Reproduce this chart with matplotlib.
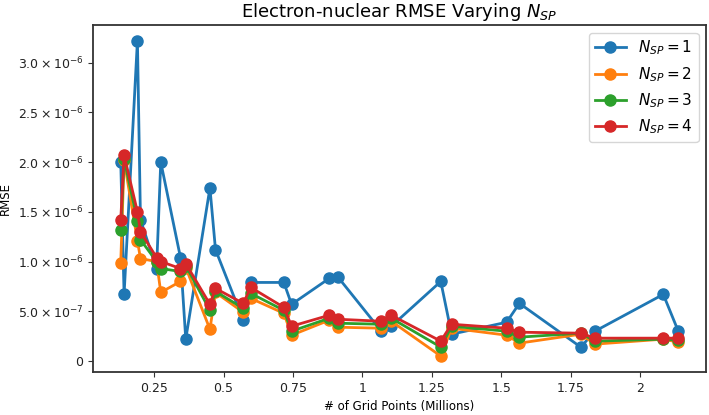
import matplotlib
matplotlib.use("Agg")
import matplotlib.pyplot as plt

grid_points = [0.130, 0.142, 0.190, 0.201, 0.259, 0.274, 0.345, 0.364, 0.451, 0.471,
               0.571, 0.598, 0.717, 0.745, 0.880, 0.913, 1.068, 1.104, 1.282, 1.321,
               1.519, 1.565, 1.786, 1.837, 2.083, 2.137]

rmse_nsp1 = [2.00, 0.67, 3.22, 1.42, 0.93, 2.00, 1.04, 0.22, 1.74, 1.12,
             0.41, 0.79, 0.79, 0.57, 0.83, 0.84, 0.30, 0.35, 0.80, 0.27,
             0.39, 0.58, 0.14, 0.30, 0.67, 0.30]
rmse_nsp2 = [0.99, 2.02, 1.21, 1.03, 1.00, 0.69, 0.80, 0.94, 0.32, 0.69,
             0.49, 0.63, 0.48, 0.26, 0.41, 0.34, 0.33, 0.40, 0.05, 0.33,
             0.26, 0.18, 0.27, 0.17, 0.22, 0.19]
rmse_nsp3 = [1.32, 2.03, 1.41, 1.22, 1.00, 0.93, 0.90, 0.96, 0.51, 0.70,
             0.53, 0.68, 0.51, 0.30, 0.43, 0.38, 0.37, 0.43, 0.14, 0.35,
             0.30, 0.24, 0.28, 0.20, 0.22, 0.21]
rmse_nsp4 = [1.42, 2.07, 1.50, 1.30, 1.04, 1.00, 0.93, 0.98, 0.57, 0.73,
             0.58, 0.74, 0.54, 0.35, 0.46, 0.42, 0.40, 0.46, 0.20, 0.37,
             0.33, 0.29, 0.28, 0.23, 0.23, 0.23]
scale = 1e-6

series = [rmse_nsp1, rmse_nsp2, rmse_nsp3, rmse_nsp4]
labels = [r"$N_{SP} = 1$", r"$N_{SP} = 2$", r"$N_{SP} = 3$", r"$N_{SP} = 4$"]
colors = ["#1f77b4", "#ff7f0e", "#2ca02c", "#d62728"]

x_ticks = [0.25, 0.5, 0.75, 1, 1.25, 1.5, 1.75, 2]
x_ticklabels = ["0.25", "0.5", "0.75", "1", "1.25", "1.5", "1.75", "2"]
y_ticks = [0, 5e-7, 1e-6, 1.5e-6, 2e-6, 2.5e-6, 3e-6]
y_ticklabels = ["0", r"$5.0\times10^{-7}$", r"$1.0\times10^{-6}$", r"$1.5\times10^{-6}$",
                r"$2.0\times10^{-6}$", r"$2.5\times10^{-6}$", r"$3.0\times10^{-6}$"]

fig = plt.figure(figsize=(7.09, 4.15), dpi=100)
ax = fig.add_axes([0.131, 0.104, 0.865, 0.836])

for vals, lab, c in zip(series, labels, colors):
    ax.plot(grid_points, [v * scale for v in vals], marker="o", markersize=8,
            linewidth=2, color=c, label=lab)

ax.set_xticks(x_ticks)
ax.set_xticklabels(x_ticklabels, fontsize=9)
ax.set_yticks(y_ticks)
ax.set_yticklabels(y_ticklabels, fontsize=9)
ax.set_xlabel("# of Grid Points (Millions)", fontsize=8.5)
ax.set_ylabel("RMSE", fontsize=8.5)
ax.set_title(r"Electron-nuclear RMSE Varying $N_{SP}$", fontsize=13)

for s in ax.spines.values():
    s.set_color("#333333")
    s.set_linewidth(1.3)
ax.tick_params(colors="#333333", labelcolor="#222222")

ax.legend(loc="upper right", fontsize=11, handlelength=2, framealpha=0.8)

fig.savefig("out.png", dpi=100)
